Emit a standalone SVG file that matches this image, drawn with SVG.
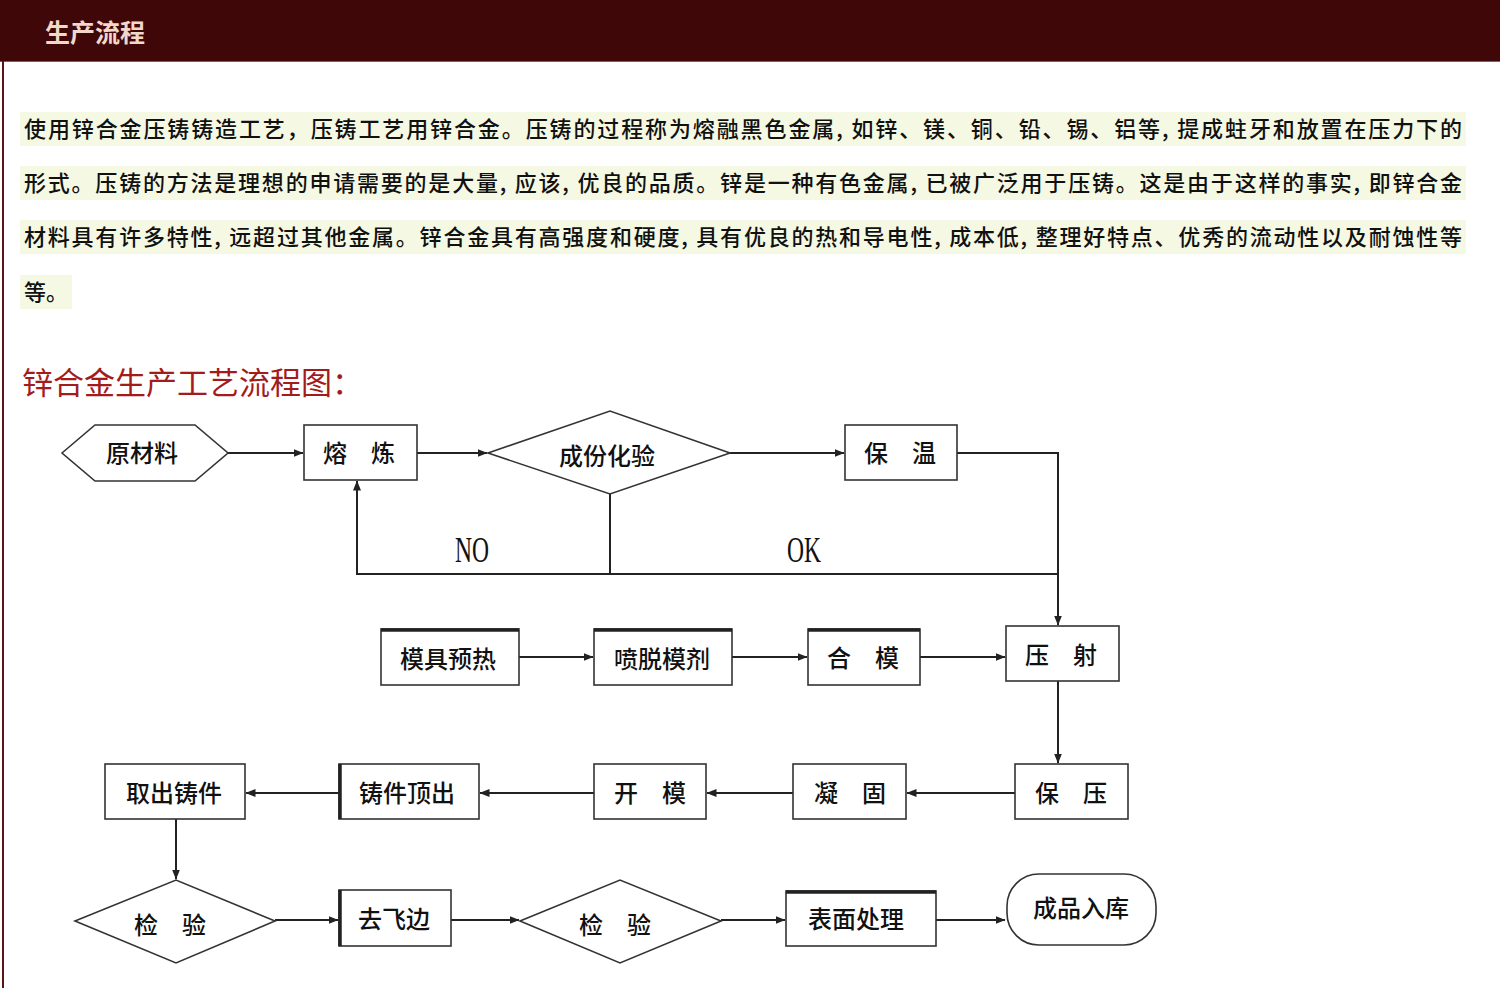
<svg xmlns="http://www.w3.org/2000/svg" width="1500" height="988" viewBox="0 0 1500 988">
<style>
.cjk{font-family:"Noto Sans CJK SC","Noto Sans CJK TC",sans-serif;}
.lbl{font-family:"Noto Sans CJK SC",sans-serif;font-size:24px;font-weight:500;fill:#111;text-anchor:middle;dominant-baseline:central;}
.para{font-family:"Noto Sans CJK SC",sans-serif;font-size:22px;font-weight:500;fill:#111;}
.hl{fill:#f5f9e4;}
.box{fill:#fff;stroke:#333;stroke-width:1.6;}
.thick{stroke:#222;stroke-width:3.5;fill:none;}
.con{fill:none;stroke:#222;stroke-width:2;}
.yn{font-family:"Liberation Serif",serif;font-size:36px;fill:#111;text-anchor:middle;}
</style>
<defs>
<marker id="ah" markerWidth="10" markerHeight="8" refX="9.5" refY="4" orient="auto" markerUnits="userSpaceOnUse">
<path d="M0,0 L10,4 L0,8 z" fill="#222"/>
</marker>
</defs>
<rect x="0" y="0" width="1500" height="988" fill="#fff"/>
<g id="header">
<rect x="0" y="0" width="1500" height="61" fill="#3f0707"/>
<line x1="0" y1="61.5" x2="1500" y2="61.5" stroke="#8a5a5a" stroke-width="1"/>
<text x="45" y="42" class="cjk" font-size="25" font-weight="bold" fill="#f2d8ca">生产流程</text>
</g>
<line x1="3" y1="61" x2="3" y2="988" stroke="#5a1414" stroke-width="2"/>
<g id="paragraph">
<rect class="hl" x="20" y="112" width="1446" height="34"/>
<rect class="hl" x="20" y="166" width="1446" height="34"/>
<rect class="hl" x="20" y="220" width="1446" height="34"/>
<rect class="hl" x="20" y="275" width="52" height="34"/>
<text class="para" x="24" y="137" textLength="1438" lengthAdjust="spacing">使用锌合金压铸铸造工艺，压铸工艺用锌合金。压铸的过程称为熔融黑色金属, 如锌、镁、铜、铅、锡、铝等, 提成蛀牙和放置在压力下的</text>
<text class="para" x="24" y="191" textLength="1438" lengthAdjust="spacing">形式。压铸的方法是理想的申请需要的是大量, 应该, 优良的品质。锌是一种有色金属, 已被广泛用于压铸。这是由于这样的事实, 即锌合金</text>
<text class="para" x="24" y="245" textLength="1438" lengthAdjust="spacing">材料具有许多特性, 远超过其他金属。锌合金具有高强度和硬度, 具有优良的热和导电性, 成本低, 整理好特点、优秀的流动性以及耐蚀性等</text>
<text class="para" x="24" y="300">等。</text>
</g>
<g id="subtitle">
<text x="22" y="394" class="cjk" font-size="31" fill="#a31b1b">锌合金生产工艺流程图：</text>
</g>
<g id="connectors">
<line class="con" x1="228" y1="453" x2="303" y2="453" marker-end="url(#ah)"/>
<line class="con" x1="417" y1="453" x2="487" y2="453" marker-end="url(#ah)"/>
<line class="con" x1="730" y1="453" x2="844" y2="453" marker-end="url(#ah)"/>
<path class="con" d="M957,453 H1058 V625" marker-end="url(#ah)"/>
<path class="con" d="M610,494 V574"/>
<path class="con" d="M1058,574 H357 V481" marker-end="url(#ah)"/>
<line class="con" x1="519" y1="657" x2="593" y2="657" marker-end="url(#ah)"/>
<line class="con" x1="732" y1="657" x2="807" y2="657" marker-end="url(#ah)"/>
<line class="con" x1="920" y1="657" x2="1005" y2="657" marker-end="url(#ah)"/>
<line class="con" x1="1058" y1="681" x2="1058" y2="763" marker-end="url(#ah)"/>
<line class="con" x1="1015" y1="793" x2="907" y2="793" marker-end="url(#ah)"/>
<line class="con" x1="793" y1="793" x2="707" y2="793" marker-end="url(#ah)"/>
<line class="con" x1="594" y1="793" x2="480" y2="793" marker-end="url(#ah)"/>
<line class="con" x1="339" y1="793" x2="246" y2="793" marker-end="url(#ah)"/>
<line class="con" x1="176" y1="819" x2="176" y2="879" marker-end="url(#ah)"/>
<line class="con" x1="275" y1="920" x2="338" y2="920" marker-end="url(#ah)"/>
<line class="con" x1="451" y1="920" x2="519" y2="920" marker-end="url(#ah)"/>
<line class="con" x1="721" y1="920" x2="785" y2="920" marker-end="url(#ah)"/>
<line class="con" x1="936" y1="920" x2="1005" y2="920" marker-end="url(#ah)"/>
<text class="yn" x="472" y="562" textLength="34" lengthAdjust="spacingAndGlyphs">NO</text>
<text class="yn" x="804" y="562" textLength="34" lengthAdjust="spacingAndGlyphs">OK</text>
</g>
<g id="n-raw">
<polygon class="box" points="62,453 95,425 195,425 228,453 195,481 95,481"/>
<text class="lbl" x="142" y="451">原材料</text>
</g>
<g id="n-melt">
<rect class="box" x="304" y="425" width="113" height="55"/>
<text class="lbl" x="359" y="451">熔　炼</text>
</g>
<g id="n-test">
<polygon class="box" points="488,453 610,411 730,453 610,494"/>
<text class="lbl" x="607" y="454">成份化验</text>
</g>
<g id="n-hold">
<rect class="box" x="845" y="425" width="112" height="55"/>
<text class="lbl" x="900" y="451">保　温</text>
</g>
<g id="n-preheat">
<rect class="box" x="381" y="629" width="138" height="56"/>
<line class="thick" x1="381" y1="630" x2="519" y2="630"/>
<text class="lbl" x="448" y="657">模具预热</text>
</g>
<g id="n-spray">
<rect class="box" x="594" y="629" width="138" height="56"/>
<line class="thick" x1="594" y1="630" x2="732" y2="630"/>
<text class="lbl" x="662" y="657">喷脱模剂</text>
</g>
<g id="n-close">
<rect class="box" x="808" y="629" width="112" height="56"/>
<line class="thick" x1="808" y1="630" x2="920" y2="630"/>
<text class="lbl" x="863" y="656">合　模</text>
</g>
<g id="n-shot">
<rect class="box" x="1006" y="626" width="113" height="55"/>
<text class="lbl" x="1061" y="653">压　射</text>
</g>
<g id="n-press">
<rect class="box" x="1015" y="764" width="113" height="55"/>
<text class="lbl" x="1071" y="791">保　压</text>
</g>
<g id="n-solid">
<rect class="box" x="793" y="764" width="113" height="55"/>
<text class="lbl" x="850" y="791">凝　固</text>
</g>
<g id="n-open">
<rect class="box" x="594" y="764" width="112" height="55"/>
<text class="lbl" x="650" y="791">开　模</text>
</g>
<g id="n-eject">
<rect class="box" x="339" y="764" width="140" height="55"/>
<line class="thick" x1="340" y1="764" x2="340" y2="819"/>
<text class="lbl" x="407" y="791">铸件顶出</text>
</g>
<g id="n-take">
<rect class="box" x="105" y="764" width="140" height="55"/>
<text class="lbl" x="174" y="791">取出铸件</text>
</g>
<g id="n-check1">
<polygon class="box" points="75,921 176,880 275,921 176,963"/>
<text class="lbl" x="170" y="923">检　验</text>
</g>
<g id="n-deburr">
<rect class="box" x="339" y="890" width="112" height="56"/>
<line class="thick" x1="340" y1="890" x2="340" y2="946"/>
<text class="lbl" x="394" y="917">去飞边</text>
</g>
<g id="n-check2">
<polygon class="box" points="520,921 620,880 721,921 620,963"/>
<text class="lbl" x="615" y="923">检　验</text>
</g>
<g id="n-surface">
<rect class="box" x="786" y="891" width="150" height="55"/>
<line class="thick" x1="786" y1="892" x2="936" y2="892"/>
<text class="lbl" x="856" y="917">表面处理</text>
</g>
<g id="n-store">
<rect class="box" x="1007" y="874" width="149" height="71" rx="32" ry="32"/>
<text class="lbl" x="1081" y="906">成品入库</text>
</g>
</svg>
